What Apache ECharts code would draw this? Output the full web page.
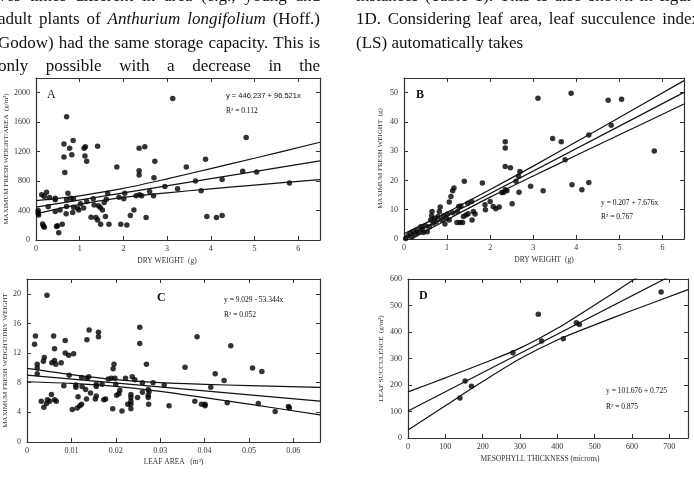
<!DOCTYPE html>
<html><head><meta charset="utf-8">
<script src="https://cdn.jsdelivr.net/npm/echarts@6/dist/echarts.min.js"></script>
<style>html,body{margin:0;padding:0;background:#fff;overflow:hidden}#c{width:694px;height:485px}</style>
</head><body><div id="c"></div><script>
// ---------- DATA ----------
// Panel A: dry weight (g) vs max fresh weight / area (g/m2)
const ptsA = [[3.13,1923],[0.70,1673],[4.81,1391],[0.64,1305],[0.85,1350],[0.77,1245],[1.10,1245],[1.13,1265],[1.41,1273],[0.64,1127],[0.82,1159],[1.12,1140],[1.16,1068],[0.66,918],[2.36,1245],[2.49,1268],[2.72,1068],[2.36,941],[2.36,882],[1.85,991],[3.44,991],[3.88,1095],[4.73,932],[5.05,923],[4.26,823],[3.65,800],[2.70,845],[2.95,727],[3.24,695],[3.78,668],[5.80,773],[3.91,318],[4.13,305],[4.26,332],[2.52,305],[0.05,400],[0.05,364],[0.06,341],[0.13,614],[0.19,591],[0.24,650],[0.31,577],[0.28,450],[0.44,568],[0.44,545],[0.44,386],[0.55,409],[0.15,218],[0.17,191],[0.19,173],[0.47,182],[0.49,195],[0.60,214],[0.52,100],[0.70,545],[0.73,636],[0.70,455],[0.69,355],[0.80,568],[0.86,559],[0.86,445],[0.84,373],[0.95,432],[0.98,409],[1.02,491],[1.09,436],[1.16,523],[1.26,309],[1.31,559],[1.33,477],[1.37,305],[1.41,273],[1.43,464],[1.47,441],[1.48,214],[1.52,409],[1.56,509],[1.59,318],[1.61,555],[1.64,636],[1.67,214],[1.90,582],[1.94,214],[2.01,559],[2.03,636],[2.08,205],[2.16,332],[2.24,409],[2.29,600],[2.37,614],[2.42,600],[2.60,659],[2.69,600]];
const regA = [[0,446],[6.5,1074]];
const bandAUp = [[0,535],[1,600],[2,700],[3,830],[4,970],[5,1110],[6.5,1327]];
const bandALo = [[0,359],[1,485],[2,578],[3,641],[4,695],[5,746],[6.5,821]];

// Panel B: dry weight (g) vs max fresh weight (g)
const ptsB = [[0.04,0.2],[0.09,1.0],[0.14,1.9],[0.18,0.8],[0.22,2.5],[0.26,1.6],[0.30,2.9],[0.34,2.2],[0.39,4.2],[0.42,3.3],[0.45,2.2],[0.50,4.5],[0.54,2.5],[0.59,4.2],[0.62,6.5],[0.64,7.9],[0.65,9.4],[0.68,5.4],[0.71,7.1],[0.75,5.9],[0.79,7.7],[0.82,9.4],[0.84,10.9],[0.87,6.5],[0.92,7.9],[0.95,5.1],[0.98,7.1],[1.01,8.5],[1.05,6.5],[1.05,12.6],[1.09,14.5],[1.13,16.5],[1.16,17.4],[1.13,9.0],[1.24,9.4],[1.27,11.1],[1.32,11.3],[1.23,5.6],[1.30,5.6],[1.36,5.6],[1.40,19.7],[1.38,7.7],[1.44,8.2],[1.49,8.6],[1.48,12.2],[1.57,12.8],[1.58,6.5],[1.61,9.4],[1.65,8.5],[1.82,19.1],[1.88,11.7],[1.89,10.0],[2.00,12.8],[2.07,11.1],[2.13,10.3],[2.21,10.9],[2.27,15.9],[2.31,15.9],[2.35,16.8],[2.39,16.5],[2.35,33.2],[2.35,31.1],[2.35,24.8],[2.47,24.3],[2.51,12.0],[2.60,19.7],[2.66,21.4],[2.67,16.0],[2.69,23.1],[2.94,18.0],[3.11,48.1],[3.23,16.5],[3.45,34.3],[3.65,33.2],[3.74,27.1],[3.88,49.8],[3.90,18.5],[4.13,16.8],[4.29,35.5],[4.29,19.3],[4.74,47.4],[4.81,38.9],[5.05,47.7],[5.81,30.1]];
const regB = [[0,0.2],[6.5,50.1]];
const bandBUp = [[0,1.8],[1,9.1],[2,16.9],[3,24.9],[4,33.2],[5,41.5],[6.5,54.1]];
const bandBLo = [[0,-1.4],[1,6.6],[2,14.3],[3,21.5],[4,28.6],[5,35.6],[6.5,46.1]];

// Panel C: leaf area (m2) vs max fresh weight / dry weight
const ptsC = [[0.0045,19.8],[0.0019,14.3],[0.0017,13.2],[0.0060,14.3],[0.0086,13.7],[0.0062,12.6],[0.0039,11.4],[0.0037,10.9],[0.0023,10.5],[0.0023,10.0],[0.0023,9.2],[0.0056,10.7],[0.0062,11.0],[0.0065,10.5],[0.0077,10.7],[0.0086,12.0],[0.0094,11.7],[0.0105,11.9],[0.0095,9.0],[0.0083,7.6],[0.0110,7.7],[0.0110,7.4],[0.0123,8.7],[0.0124,7.5],[0.0132,7.1],[0.0135,8.6],[0.0139,8.8],[0.0135,13.8],[0.0140,15.1],[0.0161,14.8],[0.0161,14.2],[0.0156,7.8],[0.0156,7.5],[0.0143,6.6],[0.0156,6.2],[0.0154,5.8],[0.0134,5.8],[0.0115,6.1],[0.0169,7.8],[0.0173,5.7],[0.0177,5.8],[0.0113,4.6],[0.0119,4.9],[0.0123,5.1],[0.0102,4.4],[0.0032,5.5],[0.0038,4.7],[0.0044,5.2],[0.0046,5.7],[0.0051,5.5],[0.0055,6.4],[0.0062,5.7],[0.0066,5.5],[0.0196,10.5],[0.0194,9.9],[0.0183,8.5],[0.0190,8.6],[0.0198,8.6],[0.0200,7.8],[0.0202,6.3],[0.0207,6.5],[0.0209,7.0],[0.0193,4.5],[0.0214,4.2],[0.0222,8.6],[0.0237,8.8],[0.0243,8.4],[0.0227,5.1],[0.0234,5.1],[0.0234,6.4],[0.0234,6.0],[0.0234,5.5],[0.0234,4.5],[0.0249,6.0],[0.0254,15.5],[0.0254,13.3],[0.0260,8.0],[0.0260,6.7],[0.0269,10.5],[0.0273,7.1],[0.0273,6.3],[0.0273,6.0],[0.0275,6.8],[0.0274,5.1],[0.0284,8.0],[0.0309,7.7],[0.0320,4.9],[0.0356,10.1],[0.0383,14.2],[0.0378,5.5],[0.0393,5.1],[0.0401,5.1],[0.0401,4.9],[0.0414,7.4],[0.0424,9.2],[0.0444,8.3],[0.0451,5.3],[0.0459,13.0],[0.0508,10.0],[0.0529,9.5],[0.0521,5.2],[0.0559,4.1],[0.0589,4.8],[0.0591,4.6]];
const regC = [[0,9.03],[0.066,5.51]];
const bandCUp = [[0,9.93],[0.01,9.09],[0.02,8.41],[0.03,8.02],[0.04,7.79],[0.05,7.61],[0.066,7.36]];
const bandCLo = [[0,8.13],[0.01,7.91],[0.02,7.51],[0.03,6.84],[0.04,5.99],[0.05,5.11],[0.066,3.66]];

// Panel D: mesophyll thickness (microns) vs leaf succulence (g/m2)
const ptsD = [[139,151],[153,215],[170,195],[281,322],[349,467],[358,366],[416,375],[451,435],[459,428],[678,551]];
const regD = [[0,101.7],[750,645.4]];
const bandDUp = [[0,174],[100,227],[200,281],[300,339],[400,414],[500,502],[600,593],[700,685]];
const bandDLo = [[0,30],[100,122],[200,213],[300,299],[400,370],[500,427],[600,481],[750,560]];

// Axis ranges [min,max,interval,showMaxLabel]
const axA = {x:[0,6.5,1,false], y:[0,2200,400,false]};
const axB = {x:[0,6.5,1,false], y:[0,55,10,false]};
const axC = {x:[0,0.066,0.01,false], y:[0,22,4,false]};
const axD = {x:[0,750,100,false], y:[0,600,100,true]};

const names = {
  A:{x:'DRY WEIGHT  (g)', y:'MAXIMUM FRESH WEIGHT/AREA  (g/m²)'},
  B:{x:'DRY WEIGHT  (g)', y:'MAXIMUM FRESH WEIGHT  (g)'},
  C:{x:'LEAF AREA   (m²)', y:'MAXIMUM FRESH WEIGHT/DRY WEIGHT'},
  D:{x:'MESOPHYLL THICKNESS (microns)', y:'LEAF SUCCULENCE  (g/m²)'}
};

// ---------- LAYOUT ----------
const grids = [
  {left:36, top:78, width:284, height:162},
  {left:404, top:78, width:280, height:161},
  {left:27, top:279, width:293, height:163},
  {left:408, top:279, width:280, height:159}
];
const SERIF = "'Liberation Serif','Times New Roman',serif";
const FRAME = '#333';
const fmt = v => String(Math.round(v * 1e6) / 1e6);
const xAxes = [], yAxes = [];
function addAxes(gi, ax, nm, xGap, yGap, xPad){
  const lab = {fontSize:8, fontFamily:SERIF, color:'#333', formatter:fmt};
  const line = {show:true,onZero:false,lineStyle:{color:FRAME,width:1.2}};
  const tick = {show:true,inside:true,length:4,lineStyle:{color:FRAME}};
  xAxes.push({type:'value', gridIndex:gi, position:'bottom', min:ax.x[0], max:ax.x[1], interval:ax.x[2],
    name:nm.x, nameLocation:'middle', nameGap:xGap,
    nameTextStyle:{fontSize:7.5, fontFamily:SERIF, color:'#333', padding:[0, xPad, 0, 0]},
    axisLine:line, axisTick:tick,
    axisLabel:Object.assign({margin:5, showMaxLabel:ax.x[3]}, lab), splitLine:{show:false}});
  xAxes.push({type:'value', gridIndex:gi, position:'top', min:ax.x[0], max:ax.x[1], interval:ax.x[2],
    axisLine:line, axisTick:tick, axisLabel:{show:false}, splitLine:{show:false}});
  yAxes.push({type:'value', gridIndex:gi, position:'left', min:ax.y[0], max:ax.y[1], interval:ax.y[2],
    name:nm.y, nameLocation:'middle', nameGap:yGap, nameTextStyle:{fontSize:7, fontFamily:SERIF, color:'#333'},
    axisLine:line, axisTick:tick,
    axisLabel:Object.assign({margin:6, showMaxLabel:ax.y[3]}, lab), splitLine:{show:false}});
  yAxes.push({type:'value', gridIndex:gi, position:'right', min:ax.y[0], max:ax.y[1], interval:ax.y[2],
    axisLine:line, axisTick:tick, axisLabel:{show:false}, splitLine:{show:false}});
}
addAxes(0, axA, names.A, 17, 26, 22);
addAxes(1, axB, names.B, 17, 20, 0);
addAxes(2, axC, names.C, 16, 18, 0);
addAxes(3, axD, names.D, 17, 23, 16);

const series = [];
function addPanel(gi, pts, reg, up, lo){
  series.push({type:'scatter', xAxisIndex:2*gi, yAxisIndex:2*gi, data:pts, symbol:'circle', symbolSize:5.5,
    itemStyle:{color:'#000'}, silent:true});
  [up, reg, lo].forEach(d => series.push({type:'line', xAxisIndex:2*gi, yAxisIndex:2*gi, data:d, smooth:0.3,
    symbol:'none', clip:true, lineStyle:{color:'#111', width:1.2}, silent:true}));
}
addPanel(0, ptsA, regA, bandAUp, bandALo);
addPanel(1, ptsB, regB, bandBUp, bandBLo);
addPanel(2, ptsC, regC, bandCUp, bandCLo);
addPanel(3, ptsD, regD, bandDUp, bandDLo);

// ---------- TEXT (page fragments) ----------
const graphics = [];
const ctx = document.createElement('canvas').getContext('2d');
function fontStr(sz, it){ return (it?'italic ':'') + sz + "px 'Liberation Serif'"; }
function wordsLine(words, x0, x1, y, sz, justify){
  const w = words.map(([t,it]) => { ctx.font = fontStr(sz,it); return ctx.measureText(t).width; });
  const tot = w.reduce((a,b)=>a+b,0);
  ctx.font = fontStr(sz,false);
  const sp = justify ? (x1 - x0 - tot) / (words.length - 1) : ctx.measureText(' ').width;
  let x = x0;
  words.forEach(([t,it], i) => {
    graphics.push({type:'text', x:x, y:y, silent:true,
      style:{text:t, fontSize:sz, fontFamily:SERIF, fontStyle: it?'italic':'normal', fill:'#111', verticalAlign:'middle', align:'left'}});
    x += w[i] + sp;
  });
}
const W = s => s.split(' ').map(t => [t,false]);
const TS = 17;
wordsLine(W('ves times different in area (e.g., young and'), -2, 320, -3, TS, true);
wordsLine([['adult',false],['plants',false],['of',false],['Anthurium',true],['longifolium',true],['(Hoff.)',false]], -2, 320, 20, TS, true);
wordsLine(W('Godow) had the same storage capacity. This is'), -2, 320, 44, TS, true);
wordsLine(W('only possible with a decrease in the'), -2, 320, 67, TS, true);
wordsLine(W('instances (Table 1). This is also shown in figure'), 356, 700, -3, TS, true);
wordsLine(W('1D. Considering leaf area, leaf succulence index'), 356, 700, 20, TS, true);
wordsLine(W('(LS) automatically takes'), 356, 700, 44, TS, false);

// panel letters and equations
function txt(t, x, y, sz, opts){
  graphics.push({type:'text', x:x, y:y, silent:true, style:Object.assign({text:t, fontSize:sz, fontFamily:SERIF, fill:'#111', verticalAlign:'middle', align:'left'}, opts||{})});
}
txt('A', 47, 95, 12, {});
txt('B', 416, 95, 12, {fontWeight:'bold'});
txt('C', 157, 298, 12, {fontWeight:'bold'});
txt('D', 419, 296, 12, {fontWeight:'bold'});
const SANS = "'Liberation Sans',Arial,sans-serif";
txt('y = 446.237 + 96.521x', 226, 96, 7.5, {fontFamily:SANS});
txt('R² = 0.112', 226, 111, 7.5, {});
txt('y = 0.207 + 7.676x', 601, 203, 7.5, {});
txt('R² = 0.767', 601, 217, 7.5, {});
txt('y = 9.029 - 53.344x', 224, 300, 7.5, {});
txt('R² = 0.052', 224, 315, 7.5, {});
txt('y = 101.676 + 0.725', 606, 391, 7.5, {});
txt('R² = 0.875', 606, 407, 7.5, {});

const chart = echarts.init(document.getElementById('c'), null, {renderer:'canvas'});
chart.setOption({
  animation:false,
  backgroundColor:'#fff',
  grid: grids.map(g => Object.assign({outerBoundsMode:'none', containLabel:false}, g)),
  xAxis: xAxes,
  yAxis: yAxes,
  series: series,
  graphic: graphics
});
</script></body></html>
